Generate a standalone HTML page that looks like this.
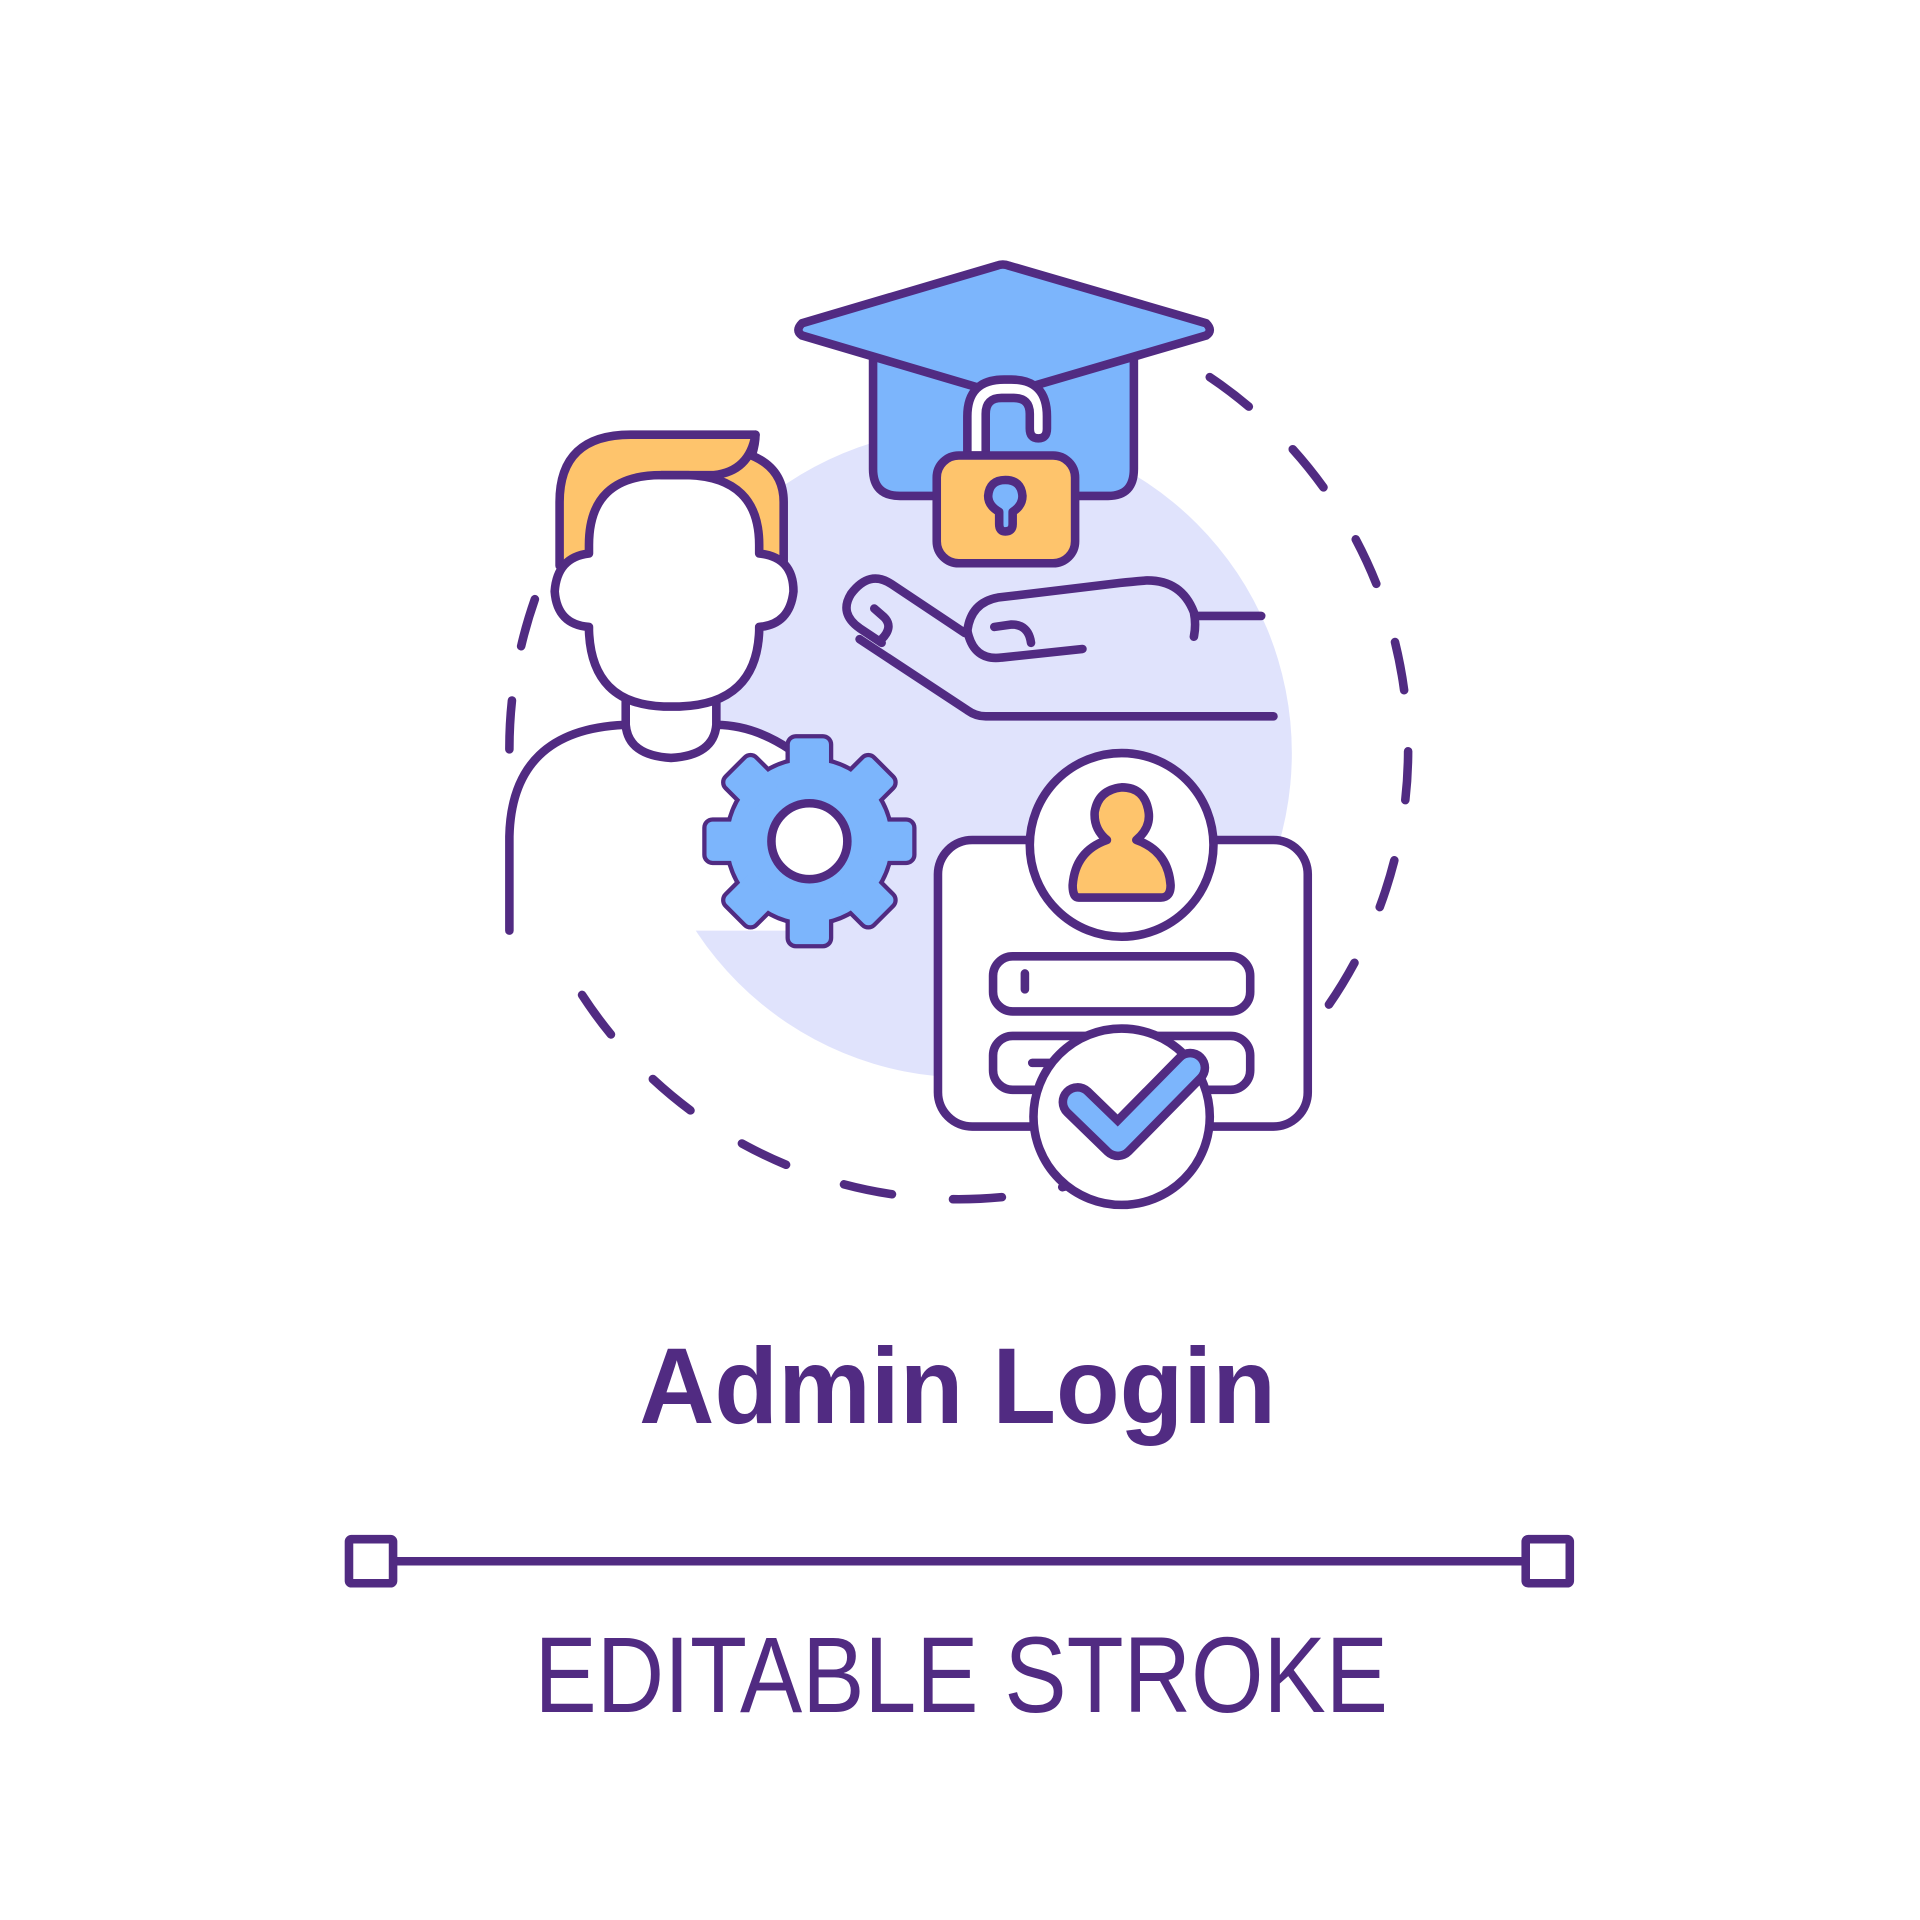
<!DOCTYPE html>
<html><head><meta charset="utf-8"><style>html,body{margin:0;padding:0;background:#fff}svg{display:block}</style></head>
<body>
<svg width="1920" height="1920" viewBox="0 0 1568 1568" xmlns="http://www.w3.org/2000/svg">
<g fill="none" stroke="#512b82" stroke-width="7" stroke-linecap="round" stroke-linejoin="round">
<circle cx="790" cy="615" r="265" fill="#e0e3fc" stroke="none"/>
<rect x="500" y="760" width="60" height="140" fill="#fff" stroke="none"/>
<path d="M988,308 A367,367 0 1 1 475,812" stroke-dasharray="40 50"/>
<path d="M416,612 A367,367 0 0 1 438,486" stroke-dasharray="40 45"/>
<path d="M416,760 V683 Q418,596 510,592 H585 Q615,592 645,612 L645,760 Z" fill="#fff" stroke="none"/>
<path d="M416,760 V683 Q418,596 510,592"/>
<path d="M585,592 Q615,592 645,612"/>
<path d="M511,570 V592 Q513,617 548,619 Q583,617 585,592 V570" fill="#fff"/>
<path d="M457,462 V410 Q457,355 515,355 H617 Q617,362 614,372 Q640,383 640,410 V462 Z" fill="#fec46c"/>
<path d="M481,452 V445 Q481,388 540,388 H562 Q620,390 620,445 V452 Q648,455 648,483 Q645,510 620,512 V515 Q618,575 555,577 H542 Q483,575 481,515 V512 Q455,510 453,483 Q455,455 481,452 Z" fill="#fff"/>
<path d="M540,388 H583 Q612,385 617,355"/>
<g transform="translate(661,687)">
<g>
<circle r="66"/>
<rect x="-16" y="-84" width="32" height="30" rx="5"/>
<rect x="-16" y="-84" width="32" height="30" rx="5" transform="rotate(45)"/>
<rect x="-16" y="-84" width="32" height="30" rx="5" transform="rotate(90)"/>
<rect x="-16" y="-84" width="32" height="30" rx="5" transform="rotate(135)"/>
<rect x="-16" y="-84" width="32" height="30" rx="5" transform="rotate(180)"/>
<rect x="-16" y="-84" width="32" height="30" rx="5" transform="rotate(225)"/>
<rect x="-16" y="-84" width="32" height="30" rx="5" transform="rotate(270)"/>
<rect x="-16" y="-84" width="32" height="30" rx="5" transform="rotate(315)"/>
</g>
<g fill="#7cb5fc" stroke="none">
<circle r="66"/>
<rect x="-16" y="-84" width="32" height="34" rx="5"/>
<rect x="-16" y="-84" width="32" height="34" rx="5" transform="rotate(45)"/>
<rect x="-16" y="-84" width="32" height="34" rx="5" transform="rotate(90)"/>
<rect x="-16" y="-84" width="32" height="34" rx="5" transform="rotate(135)"/>
<rect x="-16" y="-84" width="32" height="34" rx="5" transform="rotate(180)"/>
<rect x="-16" y="-84" width="32" height="34" rx="5" transform="rotate(225)"/>
<rect x="-16" y="-84" width="32" height="34" rx="5" transform="rotate(270)"/>
<rect x="-16" y="-84" width="32" height="34" rx="5" transform="rotate(315)"/>
</g>
<circle r="31" fill="#fff"/>
</g>
<path d="M713,292 V383 Q713,405 735,405 H905 Q926,405 926,383 V292" fill="#7cb5fc"/>
<path d="M655,264 L814,217 Q819,215 824,217 L985,264 Q991,270 985,274 L824,321 Q819,322 814,321 L655,274 Q649,270 655,264 Z" fill="#7cb5fc"/>
<path d="M790,372 V340 Q790,310 820,310 H826 Q855,310 855,340 V350 Q855,358 848,358 Q841,358 841,350 V338 Q841,325 828,325 H818 Q805,325 805,338 V372 Z" fill="#fff"/>
<rect x="765" y="372" width="113" height="88" rx="18" fill="#fec46c"/>
<path d="M816,418 Q807,413 807,405 Q808,392 821,392 Q834,392 835,405 Q835,413 827,418 V428 Q827,434 821,434 Q816,434 816,428 Z" fill="#7cb5fc"/>
<path d="M702,522 L790,580 Q797,585 805,585 H1040"/>
<path d="M720,525 L702,513 Q685,501 695,485 Q710,465 728,477 L788,517"/>
<path d="M714,497 L722,504 Q730,512 720,522"/>
<path d="M790,515 Q793,492 815,488 L915,476 Q925,475 937,474 Q965,474 975,500 Q977,510 975,520"/>
<path d="M978,503 H1030"/>
<path d="M790,515 Q795,540 818,537 L884,530"/>
<path d="M812,512 L826,510 Q840,510 842,525"/>
<rect x="766" y="686" width="302" height="234" rx="28" fill="#fff"/>
<rect x="811" y="781" width="210" height="45" rx="16" fill="#fff"/>
<path d="M837,795 V808"/>
<rect x="811" y="846" width="210" height="44" rx="16" fill="#fff"/>
<path d="M843,868 H858"/>
<circle cx="916" cy="690" r="75" fill="#fff"/>
<path d="M881,733 H948 Q956,733 956,723 Q954,695 928,686 Q940,676 938,663 Q935,643 916,643 Q897,645 894,663 Q893,677 904,686 Q878,695 876,723 Q876,733 881,733 Z" fill="#fec46c"/>
<circle cx="916" cy="912" r="72" fill="#fff"/>
<polyline points="880,900 913,932 972,872" stroke-width="31"/>
<polyline points="880,900 913,932 972,872" stroke="#7cb5fc" stroke-width="17"/>
<path d="M321,1275 H1246"/>
<rect x="285" y="1257" width="36" height="36" rx="2" fill="#fff"/>
<rect x="1246" y="1257" width="36" height="36" rx="2" fill="#fff"/>
</g>
<text x="782" y="1162" text-anchor="middle" font-family="Liberation Sans, sans-serif" font-weight="bold" font-size="88" fill="#512b82" textLength="520" lengthAdjust="spacingAndGlyphs">Admin Login</text>
<text x="785" y="1398" text-anchor="middle" font-family="Liberation Sans, sans-serif" font-size="88" fill="#512b82" textLength="697" lengthAdjust="spacingAndGlyphs">EDITABLE STROKE</text>
</svg>
</body></html>
